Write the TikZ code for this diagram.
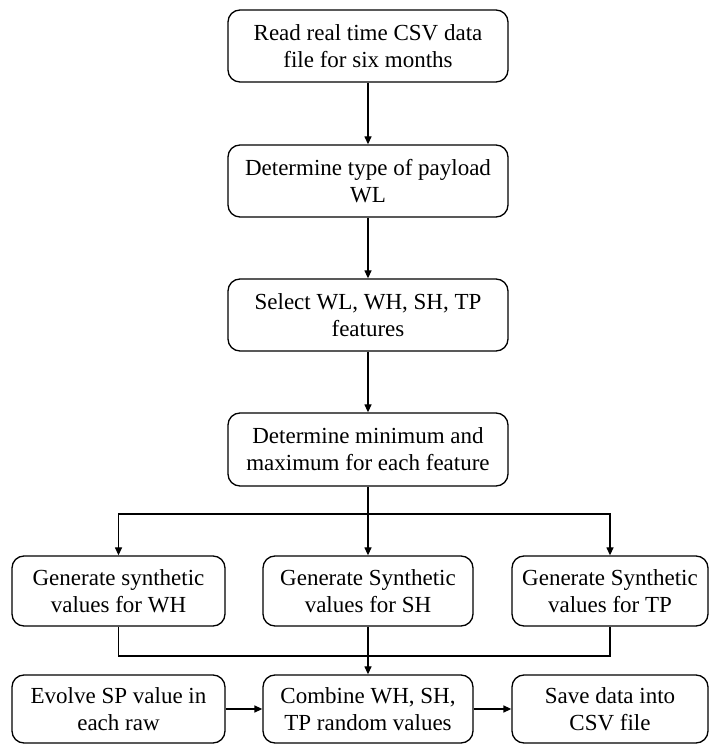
\documentclass[tikz,border=0pt]{standalone}
\usepackage{fontspec}
\setmainfont{Liberation Serif}
\newfontfamily\boxfont{Liberation Serif}
\usepackage{tikz}
\usetikzlibrary{arrows.meta, positioning}

\tikzset{
  procbox/.style={draw, rounded corners=12pt, line width=1.3pt, align=center,
    font=\boxfont\fontsize{23}{27}\selectfont, inner sep=0pt},
  flowarrow/.style={line width=1.3pt, -{Triangle[length=8pt, width=7pt]}},
  flowline/.style={line width=1.3pt}
}

\begin{document}
\begin{tikzpicture}[x=1pt, y=1pt]
    \useasboundingbox (0,0) rectangle (710,745);
    % main column
    \node[procbox, minimum width=280pt, minimum height=72pt] (readcsv) at (368,699)
      {Read real time CSV data\\file for six months};
    \node[procbox, minimum width=280pt, minimum height=72pt] (payload) at (368,564)
      {Determine type of payload\\WL};
    \node[procbox, minimum width=280pt, minimum height=72pt] (select) at (368,430)
      {Select WL, WH, SH, TP\\features};
    \node[procbox, minimum width=280pt, minimum height=73pt] (minmax) at (368,295.5)
      {Determine minimum and\\maximum for each feature};
    % generators
    \node[procbox, minimum width=213pt, minimum height=70pt] (genwh) at (118.5,154)
      {Generate synthetic\\values for WH};
    \node[procbox, minimum width=210pt, minimum height=70pt] (gensh) at (368,154)
      {Generate Synthetic\\values for SH};
    \node[procbox, minimum width=196pt, minimum height=70pt] (gentp) at (610,154)
      {Generate Synthetic\\values for TP};
    % bottom row
    \node[procbox, minimum width=213pt, minimum height=68pt] (evolve) at (118.5,36)
      {Evolve SP value in\\each raw};
    \node[procbox, minimum width=210pt, minimum height=68pt] (combine) at (368,36)
      {Combine WH, SH,\\TP random values};
    \node[procbox, minimum width=196pt, minimum height=68pt] (savecsv) at (610,36)
      {Save data into\\CSV file};

    \coordinate (split) at (368,231);
    \coordinate (merge) at (368,89);

    \draw[flowarrow] (readcsv) -- (payload);
    \draw[flowarrow] (payload) -- (select);
    \draw[flowarrow] (select) -- (minmax);
    \draw[flowline] (minmax) -- (split);
    \draw[flowarrow] (split) -| (genwh);
    \draw[flowarrow] (split) -- (gensh);
    \draw[flowarrow] (split) -| (gentp);
    \draw[flowline] (genwh) |- (merge);
    \draw[flowline] (gentp) |- (merge);
    \draw[flowarrow] (gensh) -- (combine);
    \draw[flowarrow] (evolve) -- (combine);
    \draw[flowarrow] (combine) -- (savecsv);
\end{tikzpicture}
\end{document}
